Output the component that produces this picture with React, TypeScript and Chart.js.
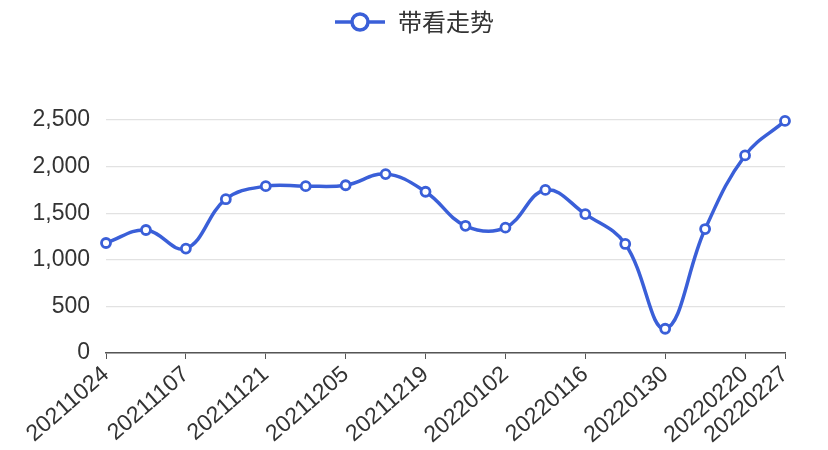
import React, { useEffect, useRef } from "react";
import { Chart, registerables } from "chart.js";

Chart.register(...registerables);

const categories = [
  "20211024", "20211031", "20211107", "20211114", "20211121", "20211128",
  "20211205", "20211212", "20211219", "20211226", "20220102", "20220109",
  "20220116", "20220123", "20220130", "20220213", "20220220", "20220227",
];
const values = [1180, 1320, 1120, 1650, 1790, 1790, 1800, 1920, 1730, 1365, 1345, 1750, 1490, 1170, 260, 1330, 2120, 2490];
const shownLabels = ["20211024", "20211107", "20211121", "20211205", "20211219", "20220102", "20220116", "20220130", "20220220", "20220227"];
const seriesName = "带看走势";
const yTicks = [0, 500, 1000, 1500, 2000, 2500];

const BLUE = "#3a5fd8";
const FONT = "'Liberation Sans', Arial, 'Noto Sans CJK SC', sans-serif";

function makeLegendIcon(): HTMLCanvasElement {
  const c = document.createElement("canvas");
  c.width = 52;
  c.height = 22;
  const ctx = c.getContext("2d")!;
  ctx.strokeStyle = BLUE;
  ctx.lineWidth = 3.5;
  ctx.beginPath();
  ctx.moveTo(1, 11);
  ctx.lineTo(51, 11);
  ctx.stroke();
  ctx.beginPath();
  ctx.arc(26, 11, 8, 0, Math.PI * 2);
  ctx.fillStyle = "#fff";
  ctx.fill();
  ctx.lineWidth = 3.5;
  ctx.stroke();
  return c;
}

export default function App() {
  const ref = useRef<HTMLCanvasElement>(null);
  useEffect(() => {
    if (!ref.current) return;
    const icon = makeLegendIcon();
    const chart = new Chart(ref.current, {
      type: "line",
      data: {
        labels: categories,
        datasets: [
          {
            label: seriesName,
            data: values,
            borderColor: BLUE,
            backgroundColor: "#fff",
            borderWidth: 3.5,
            tension: 0.4,
            pointRadius: 4.5,
            pointBorderWidth: 2.8,
            pointBackgroundColor: "#fff",
            pointBorderColor: BLUE,
            fill: false,
            clip: false as any,
          },
        ],
      },
      options: {
        animation: false,
        responsive: true,
        maintainAspectRatio: false,
        layout: { padding: { top: 0, right: 0, left: 0, bottom: 0 } },
        plugins: {
          legend: {
            display: true,
            position: "top",
            labels: {
              usePointStyle: true,
              pointStyleWidth: 52,
              boxHeight: 22,
              padding: 10,
              color: "#333",
              font: { family: "'Noto Sans CJK SC', sans-serif", size: 24 },
              generateLabels: (ch: any) => [
                {
                  text: seriesName,
                  pointStyle: icon,
                  fillStyle: "#fff",
                  strokeStyle: BLUE,
                  lineWidth: 0,
                  hidden: false,
                  datasetIndex: 0,
                  fontColor: "#333",
                },
              ],
            },
          },
          subtitle: {
            display: true,
            text: " ",
            weight: 500,
            font: { size: 10 },
            padding: { top: 64, bottom: 0 },
          } as any,
          tooltip: { enabled: false },
        },
        scales: {
          x: {
            type: "category",
            offset: false,
            grid: {
              display: true,
              drawOnChartArea: false,
              drawTicks: true,
              tickLength: 6,
              color: (ctx: any) =>
                shownLabels.includes(categories[ctx.index]) ? "#555" : "rgba(0,0,0,0)",
            },
            border: { display: true, color: "#555", width: 1.5 },
            ticks: {
              autoSkip: false,
              minRotation: 41,
              maxRotation: 41,
              padding: 2,
              color: "#333",
              font: { family: FONT, size: 23 },
              callback: (_v: any, i: number) =>
                shownLabels.includes(categories[i]) ? categories[i] : "",
            },
            afterFit: (s: any) => {
              s.height = 97;
              s.paddingRight = 43;
            },
          },
          y: {
            min: yTicks[0],
            max: yTicks[yTicks.length - 1],
            afterBuildTicks: (s: any) => {
              s.ticks = yTicks.map((v) => ({ value: v }));
            },
            grid: { color: "#e2e2e2", drawTicks: false, lineWidth: 1.2 },
            border: { display: false },
            ticks: {
              padding: 16,
              color: "#333",
              font: { family: FONT, size: 23 },
              callback: (v: any) => Number(v).toLocaleString("en-US"),
            },
            afterFit: (s: any) => {
              s.width = 106;
            },
          },
        },
      },
    });
    return () => chart.destroy();
  }, []);
  return (
    <div style={{ position: "fixed", left: 0, top: 0, width: 828, height: 450, background: "#fff" }}>
      <canvas ref={ref} />
    </div>
  );
}
